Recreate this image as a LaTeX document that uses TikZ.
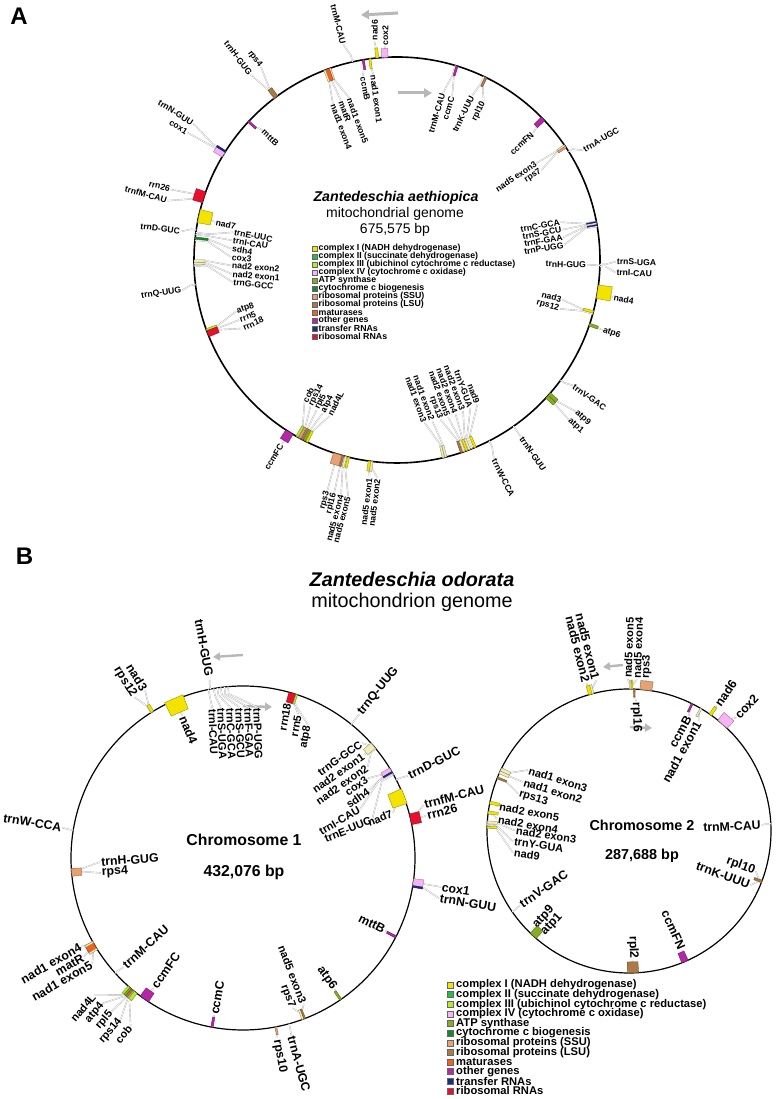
\documentclass[tikz,border=0pt]{standalone}
\usepackage{fontspec}
\setmainfont{Liberation Sans}
\usetikzlibrary{arrows.meta}
\definecolor{cI}{HTML}{F2E400}
\definecolor{cIp}{HTML}{F1EDB8}
\definecolor{cII}{HTML}{1FBF4A}
\definecolor{cIII}{HTML}{B2EB2B}
\definecolor{cIV}{HTML}{F8B4F2}
\definecolor{cATP}{HTML}{86AE1F}
\definecolor{cCCM}{HTML}{148A2C}
\definecolor{cSSU}{HTML}{E6A273}
\definecolor{cLSU}{HTML}{AD7A43}
\definecolor{cMAT}{HTML}{F0621C}
\definecolor{cOTH}{HTML}{B428A5}
\definecolor{cTRN}{HTML}{1B2C87}
\definecolor{cRRN}{HTML}{E8112D}
\definecolor{leadc}{HTML}{B4B4B4}
\newcounter{glab}
% [text direction angle]{center}{R}{gene angle}{label angle}{signed offset}{text}
\newcommand\glab[7][]{%
  \def\gtmp{#1}%
  \ifx\gtmp\empty\pgfmathsetmacro\gO{#5}\else\pgfmathsetmacro\gO{#1}\fi
  \pgfmathtruncatemacro\gRight{cos(\gO)>0}%
  \pgfmathtruncatemacro\gOut{(#6)>0}%
  \ifnum\gRight=1 \pgfmathsetmacro\gRot{\gO}\else\pgfmathsetmacro\gRot{\gO-180}\fi
  \ifnum\gRight=\gOut\relax\def\gAnc{west}\else\def\gAnc{east}\fi
  \pgfmathsetmacro\gRa{#3+0.35*(#6)}%
  \pgfmathsetmacro\gRb{#3+(#6)}%
  \stepcounter{glab}\edef\gName{gl\arabic{glab}}%
  \draw[leader] ([shift={(#2)}]#4:#3) -- ([shift={(#2)}]#4:\gRa) -- ([shift={(#2)}]#5:\gRb);
  \node[lab, rotate=\gRot, anchor=\gAnc] (\gName) at ([shift={(#2)}]#5:\gRb) {#7};
}
% {center}{R}{angle}{half width}{r1}{r2}{colour}
\newcommand\gfeat[7]{%
  \filldraw[fill=#7, draw=#7!60!black, line width=0.35pt]
    ([shift={(#1)}]{#3-#4}:{#2+(#5)}) -- ([shift={(#1)}]{#3+#4}:{#2+(#5)}) --
    ([shift={(#1)}]{#3+#4}:{#2+(#6)}) -- ([shift={(#1)}]{#3-#4}:{#2+(#6)}) -- cycle;
}
\newcommand\smlab[1]{{\fontsize{11}{12}\selectfont #1}}
\begin{document}
\begin{tikzpicture}[x=1pt,y=1pt,
  leader/.style={draw=leadc, line width=0.4pt, double=white, double distance=0.6pt},
  garrowA/.style={draw=black!28, line width=3pt, -{Triangle[length=8pt,width=9pt]}},
  garrowB/.style={draw=black!28, line width=2.4pt, -{Triangle[length=7pt,width=8pt]}},
  legA/.style={font=\bfseries\fontsize{8.8}{9}\selectfont, inner sep=0pt},
  legB/.style={font=\bfseries\fontsize{11.2}{11}\selectfont, inner sep=0pt}]
\useasboundingbox (0,0) rectangle (778,1099);
\fill[white] (0,0) rectangle (778,1099);

% ---------------- panel letters and titles
\node[font=\bfseries\fontsize{24}{24}\selectfont] (letA) at (19,1082.5) {A};
\node[font=\bfseries\fontsize{24}{24}\selectfont] (letB) at (24.5,543) {B};
\node[font=\bfseries\itshape\fontsize{19.8}{22}\selectfont] (titB) at (412,520) {Zantedeschia odorata};
\node[font=\fontsize{19.8}{22}\selectfont] (subB) at (412,496.5) {mitochondrion genome};

% ================= PANEL A =================
\coordinate (cA) at (397,839);
\draw[line width=1.6pt] (cA) circle[radius=203];
\coordinate (aA1s) at (398,1086); \coordinate (aA1e) at (361,1084);
\draw[garrowA] (aA1s) -- (aA1e);
\coordinate (aA2s) at (398,1006); \coordinate (aA2e) at (432,1006);
\draw[garrowA] (aA2s) -- (aA2e);
\node[font=\bfseries\itshape\fontsize{14.2}{16}\selectfont] (tA1) at (396,901) {Zantedeschia aethiopica};
\node[font=\fontsize{14}{16}\selectfont] (tA2) at (395,885) {mitochondrial genome};
\node[font=\fontsize{14}{16}\selectfont] (tA3) at (395,869.5) {675,575 bp};

\begin{scope}[lab/.style={font=\bfseries\fontsize{8.6}{9}\selectfont, inner sep=0.8pt}]
\glab[89]{cA}{203}{93.4}{93.2}{11}{cox2}
\glab[89]{cA}{203}{95.6}{95.9}{17}{nad6}
\glab{cA}{203}{102.7}{104}{19}{trnM-CAU}
\glab{cA}{203}{97.7}{97.3}{-16}{nad1 exon1}
\glab{cA}{203}{99.6}{100.5}{-16}{ccmB}
\glab[110]{cA}{203}{109.2}{106.4}{-34}{nad1 exon5}
\glab[110]{cA}{203}{110}{109.4}{-34}{matR}
\glab[110]{cA}{203}{110.8}{112.3}{-34}{nad1 exon4}
\glab[127]{cA}{203}{126.6}{125.2}{33}{rps4}
\glab[127]{cA}{203}{127.2}{128.3}{33}{trnH-GUG}
\glab{cA}{203}{137}{136}{-16}{mttB}
\glab[148]{cA}{203}{148.4}{148.7}{42}{cox1}
\glab[148]{cA}{203}{147.8}{146.2}{42}{trnN-GUU}
\glab[164]{cA}{203}{162}{162.7}{34}{rrn26}
\glab[164]{cA}{203}{163.5}{165.5}{34}{trnfM-CAU}
\glab{cA}{203}{167.5}{168.2}{-17}{nad7}
\glab{cA}{203}{171.5}{172.5}{15}{trnD-GUC}
\glab[170]{cA}{203}{172.2}{170.4}{-37}{trnE-UUC}
\glab[171]{cA}{203}{172.8}{173.2}{-37}{trnI-CAU}
\glab[172]{cA}{203}{173.7}{176.1}{-37}{sdh4}
\glab[173]{cA}{203}{174.4}{179}{-37}{cox3}
\glab[176]{cA}{203}{180.3}{181.9}{-37}{nad2 exon2}
\glab[175]{cA}{203}{181}{184.8}{-37}{nad2 exon1}
\glab[174]{cA}{203}{181.7}{187.7}{-37}{trnG-GCC}
\glab{cA}{203}{187}{188}{14}{trnQ-UUG}
\glab{cA}{203}{200.1}{197.7}{-34}{atp8}
\glab{cA}{203}{200.8}{200.8}{-34}{rrn5}
\glab{cA}{203}{201.4}{203.9}{-34}{rrn18}
\glab{cA}{203}{238}{238}{14}{ccmFC}
\glab[243]{cA}{203}{240.5}{237}{-33}{cob}
\glab[243]{cA}{203}{241.3}{239.4}{-33}{rps14}
\glab[243]{cA}{203}{242.1}{241.8}{-33}{rpl5}
\glab[243]{cA}{203}{242.9}{244.2}{-33}{atp4}
\glab[243]{cA}{203}{243.7}{246.6}{-33}{nad4L}
\glab[255]{cA}{203}{253}{253.2}{38}{rps3}
\glab[255]{cA}{203}{254.6}{254.9}{38}{rpl16}
\glab[255]{cA}{203}{255.4}{256.6}{38}{nad5 exon4}
\glab[255]{cA}{203}{256.2}{258.3}{38}{nad5 exon5}
\glab[263]{cA}{203}{262.2}{262.8}{16}{nad5 exon1}
\glab[263]{cA}{203}{262.9}{264.9}{16}{nad5 exon2}
\glab[-70]{cA}{203}{-76.8}{-80.4}{-38}{nad1 exon3}
\glab[-70]{cA}{203}{-76.1}{-77.6}{-38}{nad1 exon2}
\glab[-70]{cA}{203}{-71.5}{-74.8}{-38}{rps13}
\glab[-70]{cA}{203}{-70.7}{-72}{-38}{nad2 exon5}
\glab[-70]{cA}{203}{-69.9}{-69.2}{-38}{nad2 exon4}
\glab[-70]{cA}{203}{-69.1}{-66.4}{-38}{nad2 exon3}
\glab[-70]{cA}{203}{-68.3}{-63.6}{-38}{trnY-GUA}
\glab[-70]{cA}{203}{-67.4}{-60.8}{-38}{nad9}
\glab{cA}{203}{-63}{-64}{18}{trnW-CCA}
\glab{cA}{203}{-55}{-55}{13}{trnN-GUU}
\glab{cA}{203}{-36.3}{-35.5}{13}{trnV-GAC}
\glab[-41.5]{cA}{203}{-41.4}{-40.3}{31}{atp9}
\glab[-41.5]{cA}{203}{-42.4}{-42.9}{31}{atp1}
\glab{cA}{203}{-18.6}{-18.8}{14}{atp6}
\glab[-15]{cA}{203}{-14.8}{-13.5}{-33}{nad3}
\glab[-15]{cA}{203}{-15.4}{-16.7}{-33}{rps12}
\glab{cA}{203}{-9}{-9.8}{16}{nad4}
\glab[-2]{cA}{203}{-1.2}{-0.4}{16}{trnS-UGA}
\glab[-2]{cA}{203}{-1.8}{-3.3}{16}{trnI-CAU}
\glab{cA}{203}{-1.5}{-1.5}{-13}{trnH-GUG}
\glab[10]{cA}{203}{11}{13}{-35}{trnC-GCA}
\glab[10]{cA}{203}{10.5}{10.4}{-35}{trnS-GCU}
\glab[10]{cA}{203}{10}{7.8}{-35}{trnF-GAA}
\glab[10]{cA}{203}{9.5}{5.2}{-35}{trnP-UGG}
\glab[33.5]{cA}{203}{34.3}{34.8}{-33}{nad5 exon3}
\glab[33.5]{cA}{203}{33.8}{31.9}{-33}{rps7}
\glab{cA}{203}{32.3}{30.5}{13}{trnA-UGC}
\glab{cA}{203}{44}{43}{-17}{ccmFN}
\glab[64]{cA}{203}{64}{61.4}{-22}{rpl10}
\glab[64]{cA}{203}{64.6}{65.4}{-22}{trnK-UUU}
\glab[73]{cA}{203}{73.3}{74.6}{-30}{trnM-CAU}
\glab[73]{cA}{203}{72.8}{71.4}{-30}{ccmC}
\end{scope}
% features A
\gfeat{cA}{203}{93.4}{0.9}{0}{9}{cIV}
\gfeat{cA}{203}{95.6}{0.4}{0}{10}{cI}
\gfeat{cA}{203}{97.7}{0.3}{-10}{0}{cI}
\gfeat{cA}{203}{99.6}{0.3}{-10}{0}{cOTH}
\gfeat{cA}{203}{109.3}{0.25}{-12}{0}{cIp}
\gfeat{cA}{203}{110.1}{0.6}{-12}{0}{cMAT}
\gfeat{cA}{203}{110.9}{0.25}{-12}{0}{cIp}
\gfeat{cA}{203}{126.6}{0.6}{0}{10}{cLSU}
\gfeat{cA}{203}{137}{0.3}{-10}{0}{cOTH}
\gfeat{cA}{203}{148.6}{0.9}{0}{10}{cIV}
\gfeat{cA}{203}{147.7}{0.25}{0}{10}{cTRN}
\gfeat{cA}{203}{162}{1.6}{0}{10}{cRRN}
\gfeat{cA}{203}{167.5}{1.9}{-13}{0}{cI}
\gfeat{cA}{203}{173.8}{0.3}{-13}{0}{cCCM}
\gfeat{cA}{203}{180.3}{0.35}{-11}{0}{cIp}
\gfeat{cA}{203}{181}{0.3}{-11}{0}{cIp}
\gfeat{cA}{203}{200.1}{0.3}{-11}{0}{cIII}
\gfeat{cA}{203}{201.3}{0.9}{-11}{0}{cRRN}
\gfeat{cA}{203}{238}{1.2}{0}{10}{cOTH}
\gfeat{cA}{203}{240.5}{0.35}{-12}{0}{cIII}
\gfeat{cA}{203}{241.3}{0.3}{-12}{0}{cSSU}
\gfeat{cA}{203}{242.1}{0.3}{-12}{0}{cLSU}
\gfeat{cA}{203}{242.9}{0.3}{-12}{0}{cATP}
\gfeat{cA}{203}{243.7}{0.3}{-12}{0}{cI}
\gfeat{cA}{203}{253}{1.2}{0}{11}{cSSU}
\gfeat{cA}{203}{254.6}{0.25}{0}{11}{cLSU}
\gfeat{cA}{203}{255.4}{0.3}{0}{11}{cIp}
\gfeat{cA}{203}{256.2}{0.3}{0}{11}{cI}
\gfeat{cA}{203}{262.2}{0.35}{0}{10}{cI}
\gfeat{cA}{203}{262.9}{0.3}{0}{10}{cIp}
\gfeat{cA}{203}{-76.8}{0.3}{-12}{0}{cIp}
\gfeat{cA}{203}{-76.1}{0.3}{-12}{0}{cIp}
\gfeat{cA}{203}{-71.5}{0.3}{-12}{0}{cLSU}
\gfeat{cA}{203}{-70.7}{0.3}{-12}{0}{cIp}
\gfeat{cA}{203}{-69.9}{0.3}{-12}{0}{cI}
\gfeat{cA}{203}{-69.1}{0.3}{-12}{0}{cIp}
\gfeat{cA}{203}{-67.4}{0.35}{-12}{0}{cI}
\gfeat{cA}{203}{-41.4}{0.5}{0}{10}{cATP}
\gfeat{cA}{203}{-42.4}{0.5}{0}{10}{cATP}
\gfeat{cA}{203}{-18.6}{0.4}{0}{9}{cATP}
\gfeat{cA}{203}{-14.8}{0.35}{-10}{0}{cI}
\gfeat{cA}{203}{-9}{1.9}{0}{14}{cI}
\gfeat{cA}{203}{10.8}{0.15}{-10}{0}{cTRN}
\gfeat{cA}{203}{9.9}{0.15}{-10}{0}{cTRN}
\gfeat{cA}{203}{34.3}{0.3}{-9}{0}{cIp}
\gfeat{cA}{203}{33.8}{0.3}{-9}{0}{cSSU}
\gfeat{cA}{203}{44}{0.7}{-10}{0}{cOTH}
\gfeat{cA}{203}{64}{0.3}{-10}{0}{cLSU}
\gfeat{cA}{203}{72.8}{0.3}{-10}{0}{cOTH}
% legend A
\foreach \c/\t [count=\i from 0] in {cI/{complex I (NADH dehydrogenase)},cII/{complex II (succinate dehydrogenase)},cIII/{complex III (ubichinol cytochrome c reductase)},cIV/{complex IV (cytochrome c oxidase)},cATP/{ATP synthase},cCCM/{cytochrome c biogenesis},cSSU/{ribosomal proteins (SSU)},cLSU/{ribosomal proteins (LSU)},cMAT/{maturases},cOTH/{other genes},cTRN/{transfer RNAs},cRRN/{ribosomal RNAs}}{
  \pgfmathsetmacro\yy{1099-248.3-8.0*\i}
  \filldraw[fill=\c, draw=black!60, line width=0.3pt] (312,\yy-2.6) rectangle (317.2,\yy+2.6);
  \node[legA, anchor=west] (legA\i) at (318.5,\yy) {\t};
}

% ================= PANEL B : chromosome 1 =================
\coordinate (c1) at (243,241);
\draw[line width=1.2pt] (c1) circle[radius=172];
\coordinate (a11s) at (243,444); \coordinate (a11e) at (213,442);
\draw[garrowB] (a11s) -- (a11e);
\coordinate (a12s) at (243,393); \coordinate (a12e) at (272,392);
\draw[garrowB] (a12s) -- (a12e);
\node[font=\bfseries\fontsize{15.8}{17}\selectfont] (t11) at (244,259.5) {Chromosome 1};
\node[font=\bfseries\fontsize{15.8}{17}\selectfont] (t12) at (244,226.5) {432,076 bp};

\begin{scope}[lab/.style={font=\bfseries\fontsize{12.3}{13}\selectfont, inner sep=1pt}]
\glab{c1}{172}{100.9}{100.5}{12}{trnH-GUG}
\glab[122]{c1}{172}{121.7}{120.3}{22}{nad3}
\glab[122]{c1}{172}{122.3}{124}{22}{rps12}
\glab{c1}{172}{113.5}{113}{-17}{nad4}
\glab[92]{c1}{172}{101.6}{101.6}{-19}{\smlab{trnI-CAU}}
\glab[92]{c1}{172}{99.8}{98.3}{-20}{\smlab{trnS-UGA}}
\glab[92]{c1}{172}{98.6}{94.9}{-20.5}{\smlab{trnC-GCA}}
\glab[92]{c1}{172}{97.4}{91.5}{-21}{\smlab{trnS-GCU}}
\glab[92]{c1}{172}{96.2}{88.1}{-21}{\smlab{trnF-GAA}}
\glab[92]{c1}{172}{95}{84.7}{-20.5}{\smlab{trnP-UGG}}
\glab[80]{c1}{172}{73.3}{74}{-10}{\smlab{rrn18}}
\glab[80]{c1}{172}{72.5}{69}{-18}{\smlab{rrn5}}
\glab[80]{c1}{172}{71.7}{64}{-24}{\smlab{atp8}}
\glab{c1}{172}{51}{51}{13}{trnQ-UUG}
\glab[35]{c1}{172}{41.5}{44}{-6.5}{\smlab{trnG-GCC}}
\glab[35]{c1}{172}{40.5}{40.4}{-13}{\smlab{nad2 exon1}}
\glab[35]{c1}{172}{39.5}{36.2}{-17.4}{\smlab{nad2 exon2}}
\glab[35]{c1}{172}{30.8}{32.6}{-24}{\smlab{cox3}}
\glab[35]{c1}{172}{30.2}{28.3}{-28.4}{\smlab{sdh4}}
\glab[30]{c1}{172}{29.6}{22.7}{-45}{\smlab{trnI-CAU}}
\glab[22]{c1}{172}{29}{16.4}{-37.5}{\smlab{trnE-UUC}}
\glab[22]{c1}{172}{21}{16.7}{-15.4}{\smlab{nad7}}
\glab{c1}{172}{27}{26.5}{12}{trnD-GUC}
\glab[15]{c1}{172}{13.6}{16.4}{16}{trnfM-CAU}
\glab[15]{c1}{172}{12.8}{13}{16}{rrn26}
\glab[-9]{c1}{172}{-8.2}{-8.3}{28}{cox1}
\glab[-9]{c1}{172}{-9.2}{-11.6}{28}{trnN-GUU}
\glab{c1}{172}{-27.3}{-27}{-12}{mttB}
\glab{c1}{172}{-55.4}{-55}{-12}{atp6}
\glab[-69]{c1}{172}{-69.6}{-67.4}{-14}{\smlab{nad5 exon3}}
\glab[-69]{c1}{172}{-69}{-71.8}{-14}{\smlab{rps7}}
\glab{c1}{172}{-74.5}{-74.8}{12}{trnA-UGC}
\glab{c1}{172}{-79}{-79.5}{12}{rps10}
\glab{c1}{172}{259.6}{259.6}{-12}{ccmC}
\glab{c1}{172}{235}{235.5}{-14}{ccmFC}
\glab{c1}{172}{222}{222.5}{-10}{trnM-CAU}
\glab[230]{c1}{172}{228.6}{222.6}{30}{\smlab{nad4L}}
\glab[230]{c1}{172}{229.3}{226}{30}{\smlab{atp4}}
\glab[230]{c1}{172}{230}{229.4}{30}{\smlab{rpl5}}
\glab[230]{c1}{172}{230.7}{232.8}{30}{\smlab{rps14}}
\glab[230]{c1}{172}{231.5}{236.2}{30}{\smlab{cob}}
\glab[210]{c1}{172}{209.6}{208.5}{12}{nad1 exon4}
\glab[210]{c1}{172}{210.7}{211.8}{15}{matR}
\glab[210]{c1}{172}{211.8}{215}{12}{nad1 exon5}
\glab[184]{c1}{172}{183.8}{181.6}{-29}{trnH-GUG}
\glab[184]{c1}{172}{184.8}{186}{-29}{rps4}
\glab{c1}{172}{170.7}{170.5}{11}{trnW-CCA}
\end{scope}
\gfeat{c1}{172}{121.8}{0.5}{0}{8}{cI}
\gfeat{c1}{172}{113.5}{3.3}{-13}{2}{cI}
\gfeat{c1}{172}{73.3}{1.2}{-10}{0}{cRRN}
\gfeat{c1}{172}{71.8}{0.3}{-10}{0}{cIII}
\gfeat{c1}{172}{40.8}{1.2}{-10}{0}{cIp}
\gfeat{c1}{172}{30.8}{0.8}{-10}{0}{cIV}
\gfeat{c1}{172}{29.9}{0.25}{-10}{0}{cTRN}
\gfeat{c1}{172}{21}{2.6}{-14}{1}{cI}
\gfeat{c1}{172}{13}{1.8}{0}{10}{cRRN}
\gfeat{c1}{172}{-8.3}{1.4}{0}{10}{cIV}
\gfeat{c1}{172}{-9.5}{0.3}{0}{10}{cTRN}
\gfeat{c1}{172}{-27.3}{0.4}{-10}{0}{cOTH}
\gfeat{c1}{172}{-55.4}{0.4}{-10}{0}{cATP}
\gfeat{c1}{172}{-69.6}{0.4}{-10}{0}{cIp}
\gfeat{c1}{172}{-69}{0.3}{-10}{0}{cLSU}
\gfeat{c1}{172}{-79}{0.3}{0}{8}{cSSU}
\gfeat{c1}{172}{259.6}{0.4}{-10}{0}{cOTH}
\gfeat{c1}{172}{235}{1.7}{-10}{0}{cOTH}
\gfeat{c1}{172}{228.5}{0.4}{0}{9}{cIII}
\gfeat{c1}{172}{229.2}{0.3}{0}{9}{cATP}
\gfeat{c1}{172}{229.9}{0.3}{0}{9}{cLSU}
\gfeat{c1}{172}{230.6}{0.3}{0}{9}{cSSU}
\gfeat{c1}{172}{231.4}{0.6}{0}{9}{cIII}
\gfeat{c1}{172}{210.5}{1.5}{0}{9}{cMAT}
\gfeat{c1}{172}{209.3}{0.3}{0}{9}{cIp}
\gfeat{c1}{172}{211.9}{0.3}{0}{9}{cIp}
\gfeat{c1}{172}{184.8}{1.3}{-10}{0}{cSSU}

% ================= PANEL B : chromosome 2 =================
\coordinate (c2) at (629,268);
\draw[line width=1.2pt] (c2) circle[radius=142];
\coordinate (a21s) at (623,434); \coordinate (a21e) at (603,432);
\draw[garrowB] (a21s) -- (a21e);
\coordinate (a22s) at (630,372); \coordinate (a22e) at (652,371);
\draw[garrowB] (a22s) -- (a22e);
\node[font=\bfseries\fontsize{14.4}{16}\selectfont] (t21) at (642,274) {Chromosome 2};
\node[font=\bfseries\fontsize{14.4}{16}\selectfont] (t22) at (642,243) {287,688 bp};

\begin{scope}[lab/.style={font=\bfseries\fontsize{12.3}{13}\selectfont, inner sep=1pt}]
\glab[104]{c2}{142}{104.8}{102.3}{12}{nad5 exon1}
\glab[104]{c2}{142}{105.6}{106.1}{12}{nad5 exon2}
\glab[88]{c2}{142}{89.4}{90.5}{10}{\smlab{nad5 exon5}}
\glab[88]{c2}{142}{88.7}{87}{10}{\smlab{nad5 exon4}}
\glab[88]{c2}{142}{83.3}{83.5}{10}{\smlab{rps3}}
\glab[92]{c2}{142}{87.8}{86.9}{-12}{rpl16}
\glab[61]{c2}{142}{63.6}{62.5}{-12}{ccmB}
\glab[61]{c2}{142}{59.5}{57.6}{-12}{nad1 exon1}
\glab{c2}{142}{55}{55}{11}{nad6}
\glab{c2}{142}{48.8}{46.6}{14}{cox2}
\glab{c2}{142}{3}{2.6}{-9}{trnM-CAU}
\glab[-20]{c2}{142}{-20.5}{-17.6}{-9}{rpl10}
\glab[-20]{c2}{142}{-21.2}{-24}{-9}{trnK-UUU}
\glab{c2}{142}{-66.8}{-65.8}{-12}{ccmFN}
\glab{c2}{142}{-88.4}{-88}{-13}{rpl2}
\glab[227]{c2}{142}{227}{225.3}{-7}{atp9}
\glab[227]{c2}{142}{228.2}{230}{-7}{atp1}
\glab{c2}{142}{214.7}{214.2}{-10}{trnV-GAC}
\glab[163]{c2}{142}{154.3}{148.9}{-24}{\smlab{nad1 exon3}}
\glab[163]{c2}{142}{155.5}{155.2}{-25}{\smlab{nad1 exon2}}
\glab[163]{c2}{142}{158}{161.3}{-25}{\smlab{rps13}}
\glab[170]{c2}{142}{168.5}{169.4}{-9}{\smlab{nad2 exon5}}
\glab[170]{c2}{142}{172.5}{174.8}{-9.5}{\smlab{nad2 exon4}}
\glab[172]{c2}{142}{176.5}{179.8}{-28}{\smlab{nad2 exon3}}
\glab[172]{c2}{142}{177.5}{185.2}{-25.6}{\smlab{trnY-GUA}}
\glab[172]{c2}{142}{178.5}{190.6}{-24}{\smlab{nad9}}
\end{scope}
\gfeat{c2}{142}{104.8}{0.5}{0}{9}{cIp}
\gfeat{c2}{142}{105.8}{0.7}{0}{9}{cI}
\gfeat{c2}{142}{89.6}{0.3}{0}{9}{cIp}
\gfeat{c2}{142}{88.8}{0.3}{0}{9}{cI}
\gfeat{c2}{142}{83.2}{2.4}{0}{9}{cSSU}
\gfeat{c2}{142}{87.8}{0.3}{-8}{0}{cLSU}
\gfeat{c2}{142}{63.6}{0.4}{-9}{0}{cOTH}
\gfeat{c2}{142}{59.5}{0.4}{-9}{0}{cIp}
\gfeat{c2}{142}{55}{0.6}{0}{9}{cI}
\gfeat{c2}{142}{48.8}{2.5}{0}{10}{cIV}
\gfeat{c2}{142}{-20.8}{0.5}{-8}{0}{cLSU}
\gfeat{c2}{142}{-66.8}{1.4}{-10}{0}{cOTH}
\gfeat{c2}{142}{-88.4}{2.3}{-11}{0}{cLSU}
\gfeat{c2}{142}{227.6}{1.6}{-10}{0}{cATP}
\gfeat{c2}{142}{154.3}{0.7}{-10}{0}{cIp}
\gfeat{c2}{142}{155.6}{0.6}{-10}{0}{cIp}
\gfeat{c2}{142}{158}{0.4}{-10}{0}{cLSU}
\gfeat{c2}{142}{168.5}{0.6}{-10}{0}{cI}
\gfeat{c2}{142}{172.5}{0.6}{-10}{0}{cI}
\gfeat{c2}{142}{176.5}{0.6}{-10}{0}{cIp}
\gfeat{c2}{142}{178.5}{0.4}{-10}{0}{cI}
% legend B
\foreach \c/\t [count=\i from 0] in {cI/{complex I (NADH dehydrogenase)},cII/{complex II (succinate dehydrogenase)},cIII/{complex III (ubichinol cytochrome c reductase)},cIV/{complex IV (cytochrome c oxidase)},cATP/{ATP synthase},cCCM/{cytochrome c biogenesis},cSSU/{ribosomal proteins (SSU)},cLSU/{ribosomal proteins (LSU)},cMAT/{maturases},cOTH/{other genes},cTRN/{transfer RNAs},cRRN/{ribosomal RNAs}}{
  \pgfmathsetmacro\yy{1099-985-9.61*\i}
  \filldraw[fill=\c, draw=black!60, line width=0.3pt] (447,\yy-3) rectangle (453,\yy+3);
  \node[legB, anchor=west] (legB\i) at (456,\yy) {\t};
}
\end{tikzpicture}
\end{document}
